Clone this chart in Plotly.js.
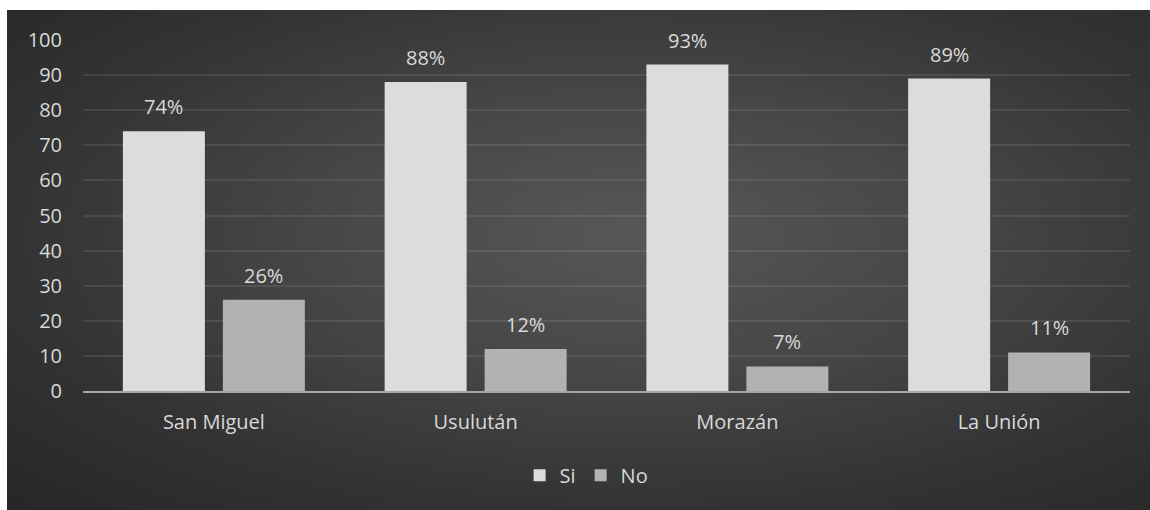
<!DOCTYPE html>
<html>
<head>
<meta charset="utf-8">
<script src="https://cdn.plot.ly/plotly-3.0.1.min.js"></script>
<style>
  html, body { margin: 0; padding: 0; background: #ffffff; width: 1150px; height: 510px; overflow: hidden; }
  #chart {
    position: absolute; left: 7px; top: 10px; width: 1143px; height: 500px;
    background: radial-gradient(ellipse at 55% 45%, #575757 0%, #474747 35%, #333333 70%, #262626 100%);
  }
</style>
</head>
<body>
<div id="chart"></div>
<script>
const categories = ["San Miguel", "Usulután", "Morazán", "La Unión"];
const siValues = [74, 88, 93, 89];
const noValues = [26, 12, 7, 11];
const seriesNames = ["Si", "No"];

const textColor = "#d9d9d9";
const fontFamily = "'Open Sans', Lato, sans-serif";
const fontSize = 20;

const traces = [
  {
    type: "bar", name: seriesNames[0], x: categories, y: siValues,
    marker: { color: "#dcdcdc" }, hoverinfo: "none"
  },
  {
    type: "bar", name: seriesNames[1], x: categories, y: noValues,
    marker: { color: "#b2b2b2" }, hoverinfo: "none"
  }
];

// value labels above each bar (offset to the bar's slot in its group)
const annotations = [];
[siValues, noValues].forEach((vals, si) => {
  vals.forEach((v, i) => {
    annotations.push({
      x: categories[i], y: v, xref: "x", yref: "y",
      xshift: si === 0 ? -50 : 50, yshift: 9,
      text: v + "%", showarrow: false,
      xanchor: "center", yanchor: "bottom",
      font: { color: textColor, size: fontSize, family: fontFamily }
    });
  });
});

const layout = {
  width: 1143, height: 500,
  margin: { l: 76, r: 20, t: 30, b: 119 },
  paper_bgcolor: "rgba(0,0,0,0)",
  plot_bgcolor: "rgba(0,0,0,0)",
  font: { family: fontFamily, color: textColor, size: fontSize },
  barmode: "group",
  bargap: 0.236,
  bargroupgap: 0.18,
  showlegend: true,
  legend: {
    orientation: "h", x: 0.481, xanchor: "center", y: -0.24, yanchor: "middle",
    font: { size: fontSize, color: textColor, family: fontFamily },
    itemwidth: 30, traceorder: "normal"
  },
  annotations: annotations,
  xaxis: {
    type: "category",
    showgrid: false, zeroline: false,
    showline: true, linecolor: "#a6a6a6", linewidth: 2,
    ticks: "", ticklabelstandoff: 12,
    tickfont: { size: fontSize, color: textColor, family: fontFamily }
  },
  yaxis: {
    range: [0, 100], dtick: 10, tick0: 0,
    showgrid: true, gridcolor: "rgba(255,255,255,0.09)", gridwidth: 2,
    zeroline: false, showline: false, ticks: "",
    ticklabelstandoff: 20,
    tickfont: { size: fontSize, color: textColor, family: fontFamily }
  }
};

Plotly.newPlot("chart", traces, layout, { staticPlot: true, displayModeBar: false });
</script>
</body>
</html>
